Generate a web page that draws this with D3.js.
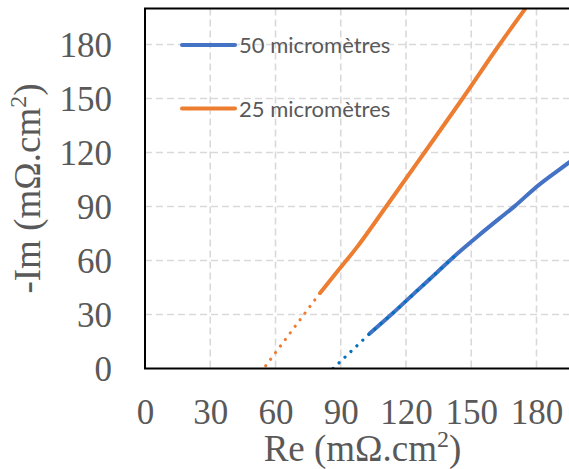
<!DOCTYPE html>
<html>
<head>
<meta charset="utf-8">
<script src="https://cdn.jsdelivr.net/npm/d3@7"></script>
<style>
  html, body { margin: 0; padding: 0; background: #fff; overflow: hidden; }
  svg { display: block; }
</style>
</head>
<body>
<svg id="chart" width="569" height="469"></svg>
<script>
// ---- data (Re, -Im) in mΩ.cm² ----
const xTicks = [0, 30, 60, 90, 120, 150, 180];
const yTicks = [0, 30, 60, 90, 120, 150, 180];
const seriesNames = ["50 micromètres", "25 micromètres"];

const re50 = [103.3, 114, 124, 133.9, 144.6, 153, 163, 170, 179.4, 194.7, 200];
const im50 = [19.4, 30.8, 42, 53, 64.9, 73.5, 83.4, 90.2, 100.3, 114.2, 119];

const re25 = [80.5, 88.5, 97.2, 110.9, 128.5, 146, 163, 175.2];
const im25 = [42, 54, 67, 90, 120, 150, 180, 200.5];

// dotted extrapolation segments
const re50dot = [86.5, 103.3, 114, 124, 133.9, 144.6];
const im50dot = [0, 19.4, 30.8, 42, 53, 64.9];
const re25dot = [55.5, 80.5];
const im25dot = [1.5, 42];

const colors = ["#4472C4", "#ED7D31"];
const dotColors = ["#0070C0", "#ED7D31"];

// ---- layout ----
const svg = d3.select("#chart");
const mLeft = 145, mRight = 580, mTop = 8.5, mBottom = 368.5;
const x = d3.scaleLinear().domain([0, 200]).range([mLeft, mRight]);
const y = d3.scaleLinear().domain([0, 200]).range([mBottom, mTop]);

const serif = "'Liberation Serif', 'Times New Roman', serif";
const textColor = "#595959";

// gridlines
const grid = svg.append("g");
grid.selectAll(".vg").data(xTicks.filter(d => d > 0)).enter().append("line")
  .attr("x1", d => x(d)).attr("x2", d => x(d))
  .attr("y1", y(200)).attr("y2", y(0))
  .attr("stroke", "#D9D9D9").attr("stroke-width", 1.6).attr("stroke-dasharray", "7,4");
grid.selectAll(".hg").data(yTicks.filter(d => d > 0)).enter().append("line")
  .attr("x1", x(0)).attr("x2", x(200))
  .attr("y1", d => y(d)).attr("y2", d => y(d))
  .attr("stroke", "#D9D9D9").attr("stroke-width", 1.6).attr("stroke-dasharray", "7,4");

// axes labels via d3 axes
const xAxis = d3.axisBottom(x).tickValues(xTicks).tickSize(0).tickPadding(0);
const gx = svg.append("g").attr("transform", `translate(0,${mBottom})`).call(xAxis);
gx.select(".domain").remove();
gx.selectAll("text").attr("dy", null).attr("y", 55)
  .attr("font-family", serif).attr("font-size", 35).attr("fill", textColor);

const yAxis = d3.axisLeft(y).tickValues(yTicks).tickSize(0).tickPadding(0);
const gy = svg.append("g").attr("transform", `translate(112,0)`).call(yAxis);
gy.select(".domain").remove();
gy.selectAll("text").attr("x", 0).attr("dy", "0.34em")
  .attr("font-family", serif).attr("font-size", 35).attr("fill", textColor);

// lines
const line = d3.line().x(d => x(d[0])).y(d => y(d[1])).curve(d3.curveMonotoneX);
const zip = (a, b) => a.map((v, i) => [v, b[i]]);

svg.append("clipPath").attr("id", "plotclip").append("rect")
  .attr("x", mLeft).attr("y", mTop).attr("width", mRight - mLeft).attr("height", mBottom - mTop);

const plot = svg.append("g").attr("clip-path", "url(#plotclip)");

plot.append("path").datum(zip(re50, im50)).attr("d", line)
  .attr("fill", "none").attr("stroke", colors[0]).attr("stroke-width", 4).attr("stroke-linecap", "round");
plot.append("path").datum(zip(re25, im25)).attr("d", line)
  .attr("fill", "none").attr("stroke", colors[1]).attr("stroke-width", 4).attr("stroke-linecap", "round");

const dotLine = d3.line().x(d => x(d[0])).y(d => y(d[1]));
plot.append("path").datum(zip(re50dot, im50dot)).attr("d", dotLine)
  .attr("fill", "none").attr("stroke", dotColors[0]).attr("stroke-width", 3.2)
  .attr("stroke-linecap", "round").attr("stroke-dasharray", "0.01,8.2");
plot.append("path").datum(zip(re25dot, im25dot)).attr("d", dotLine)
  .attr("fill", "none").attr("stroke", dotColors[1]).attr("stroke-width", 3.2)
  .attr("stroke-linecap", "round").attr("stroke-dasharray", "0.01,8.2");

// frame
svg.append("rect").attr("x", mLeft).attr("y", mTop)
  .attr("width", mRight - mLeft).attr("height", mBottom - mTop)
  .attr("fill", "none").attr("stroke", "#000").attr("stroke-width", 2);

// legend
const legY = [45, 108.5];
const leg = svg.append("g");
seriesNames.forEach((name, i) => {
  leg.append("line").attr("x1", 182).attr("x2", 235).attr("y1", legY[i]).attr("y2", legY[i])
    .attr("stroke", colors[i]).attr("stroke-width", 4).attr("stroke-linecap", "round");
  leg.append("text").attr("x", 239).attr("y", legY[i] + 8)
    .attr("font-family", "Lato, 'Open Sans', sans-serif").attr("font-size", 22)
    .attr("fill", textColor).text(name);
});

// axis titles
const xt = svg.append("text").attr("x", (mLeft + mRight) / 2).attr("y", 461)
  .attr("text-anchor", "middle").attr("font-family", serif).attr("font-size", 37).attr("fill", textColor);
xt.append("tspan").text("Re (mΩ.cm");
xt.append("tspan").attr("font-size", 24).attr("dy", -14).text("2");
xt.append("tspan").attr("dy", 14).text(")");

const yt = svg.append("text").attr("transform", `translate(40,${(mTop + mBottom) / 2}) rotate(-90)`)
  .attr("text-anchor", "middle").attr("font-family", serif).attr("font-size", 37).attr("fill", textColor);
yt.append("tspan").text("-Im (mΩ.cm");
yt.append("tspan").attr("font-size", 24).attr("dy", -14).text("2");
yt.append("tspan").attr("dy", 14).text(")");
</script>
</body>
</html>
